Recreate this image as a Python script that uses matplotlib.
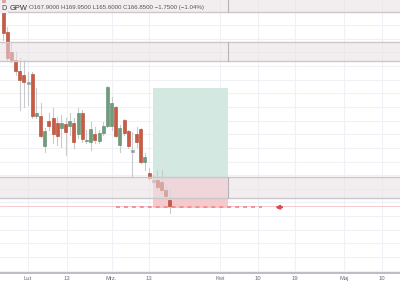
import matplotlib
matplotlib.use("Agg")
import matplotlib.pyplot as plt
from matplotlib.patches import Rectangle

# ---- data ----
opens  = [205.17,198.75,195.08,193.62,191.60,190.87,189.40,191.05,183.35,183.35,
          177.85,182.43,182.98,182.07,181.15,181.88,181.52,182.07,180.05,183.90,
          178.68,178.58,180.05,178.77,180.23,181.52,181.52,185.00,178.03,182.62,
          180.60,176.93,180.05,180.97,174.92,172.90,171.43,171.62,171.25,169.78,
          167.90]
highs  = [206.45,199.67,196.92,195.08,193.98,193.62,191.42,191.42,188.48,185.73,
          181.15,183.90,184.82,183.17,183.53,182.98,183.90,182.98,184.82,184.45,
          180.78,182.25,181.33,180.78,182.25,188.85,186.83,185.18,181.70,182.80,
          180.78,180.42,181.33,181.15,176.57,173.82,172.53,173.45,173.45,170.70,
          169.95]
lows   = [197.28,193.62,193.25,190.87,184.45,185.00,185.37,182.98,182.98,179.50,
          176.75,180.78,178.40,178.03,177.67,176.20,179.87,177.48,179.32,178.58,
          178.40,177.12,178.40,178.40,179.87,181.33,180.78,179.50,176.75,179.87,
          177.48,172.17,177.67,174.73,173.45,171.62,171.07,169.97,169.42,168.32,
          165.60]
closes = [198.57,193.98,193.62,191.60,189.95,189.58,189.31,183.35,183.90,179.68,
          180.60,181.52,180.05,179.68,182.07,180.42,182.43,178.58,183.90,179.13,
          178.95,180.97,178.95,180.23,181.52,188.67,185.73,179.68,181.15,180.23,
          177.85,176.84,178.58,174.92,175.83,171.98,171.34,170.33,169.78,168.68,
          166.85]

tick_pos    = [6, 15.3, 26, 35, 52, 61, 70, 81.7, 90.8]
tick_labels = ["Lut", "13", "Mrz.", "13", "Kwi", "10", "19", "Maj", "10"]

bands = [(202.42, 207.0), (193.43, 196.92), (168.32, 172.17)]   # (low, high)
pos_start, pos_end = 35.9, 53.9
target_price, entry_price, stop_price = 188.48, 172.17, 166.48
stop_line = 166.62
last_price = 166.85

header_vals = "O167.9000 H169.9500 L165.6000 C166.8500 \u22121.7500 (\u22121.04%)"

# ---- figure ----
W, H = 400, 284
fig = plt.figure(figsize=(W/100, H/100), dpi=100)
ax = fig.add_axes([0, 11/H, 1, 273/H])
ax.set_xlim(-0.72, 95.1)
ax.set_ylim(154.57, 204.62)

for sp in ["top", "left", "right"]:
    ax.spines[sp].set_visible(False)
ax.spines["bottom"].set_color("#b5b8c0")
ax.spines["bottom"].set_linewidth(1.3)
ax.set_yticks([])
ax.set_xticks(tick_pos)
ax.set_xticklabels(tick_labels, fontsize=4.2, color="#6a6d78", family="Liberation Sans")
ax.tick_params(axis="x", length=0, pad=2.5)

# grid
for t in tick_pos:
    ax.axvline(t, color="#eff1f6", lw=0.8, zorder=0)
g = 155.0
while g < 205:
    ax.axhline(g, color="#eff1f6", lw=0.8, zorder=0)
    g += 2.5

# position zones
ax.add_patch(Rectangle((pos_start, entry_price), pos_end - pos_start,
                       target_price - entry_price, facecolor="#d4e8e2",
                       edgecolor="none", zorder=1))
ax.add_patch(Rectangle((pos_start, stop_price), pos_end - pos_start,
                       entry_price - stop_price, facecolor="#f6c9cd",
                       edgecolor="none", zorder=1))

# last price line + stop dashed line + arrow
ax.axhline(last_price, color="#f7c3c6", lw=0.6, zorder=1.5)
ax.plot([27.07, 62.0], [stop_line, stop_line], color="#ef8a90", lw=1.3,
        dashes=(2.2, 2.2), zorder=1.6)
ax.annotate("", xy=(64.5, stop_line), xytext=(67.5, stop_line),
            arrowprops=dict(arrowstyle="-|>", color="#e0474f", lw=1.6,
                            mutation_scale=5), zorder=1.7)

# candles
xs = list(range(len(opens)))
for x, o, h, l, c in zip(xs, opens, highs, lows, closes):
    up = c > o
    if abs(c - o) < 0.2:
        face, edge = "#9a9a9a", "#9a9a9a"
    elif up:
        face, edge = "#6f9c7c", "#5d876a"
    else:
        face, edge = "#cb5a42", "#ab4432"
    ax.plot([x, x], [l, h], color="#c9cacc", lw=0.8, zorder=2)
    b0, b1 = min(o, c), max(o, c)
    ax.add_patch(Rectangle((x - 0.36, b0), 0.72, max(b1 - b0, 0.2),
                           facecolor=face, edgecolor=edge, lw=0.4, zorder=2.1))

# bands (drawn over candles)
for lo, hi in bands:
    ax.add_patch(Rectangle((-1, lo), 100, hi - lo, facecolor="#e9e1e5",
                           alpha=0.55, edgecolor="none", zorder=3))
    ax.axhline(hi, color="#cbc7ca", lw=1.0, zorder=3.1)
    ax.axhline(lo, color="#cbc7ca", lw=1.0, zorder=3.1)
    ax.plot([pos_end, pos_end], [lo, hi], color="#b8b3b6", lw=0.8, zorder=3.2)

# header
fig.text(1/W, 1 - 8/H, "D", fontsize=5.2, color="#444", family="Liberation Sans",
         va="center", ha="left",
         bbox=dict(boxstyle="square,pad=0.25", facecolor="#f0eef0", edgecolor="none"))
fig.text(10/W, 1 - 8/H, "GPW", fontsize=5.4, color="#333", family="Liberation Sans",
         va="center", ha="left")
fig.text(29/W, 1 - 8/H, header_vals, fontsize=4.4, color="#555",
         family="Liberation Sans", va="center", ha="left")

fig.savefig("out.png", dpi=100)
